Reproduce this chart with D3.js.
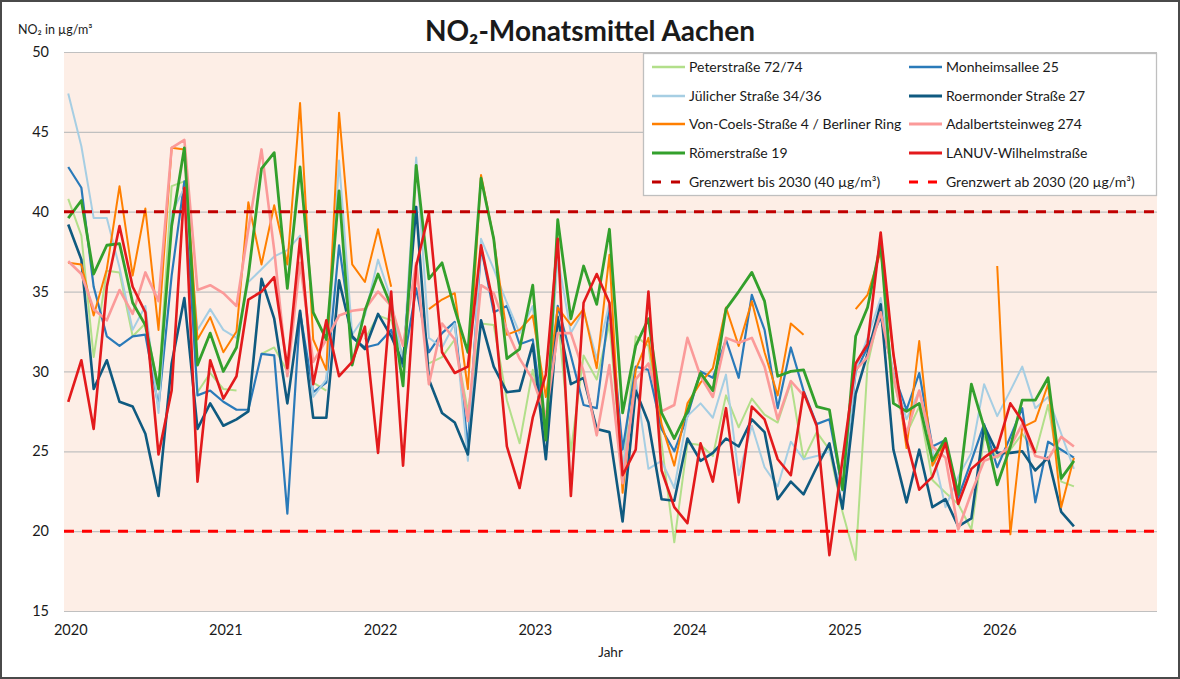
<!DOCTYPE html>
<html>
<head>
<meta charset="utf-8">
<script src="https://cdn.jsdelivr.net/npm/d3@7"></script>
<style>
body { margin: 0; background: #fff; }
text { font-family: Lato, "Noto Sans", sans-serif; fill: #1a1a1a; }
</style>
</head>
<body>
<svg id="chart" width="1180" height="679"></svg>
<script>
// monthly means, first value = Jan 2020, null = no measurement
var years = [2020, 2021, 2022, 2023, 2024, 2025, 2026];
var yTicks = [15, 20, 25, 30, 35, 40, 45, 50];

var peterstrasse = [40.8,38.5,30.9,36.3,36.2,32.2,33.0,29.0,41.6,41.9,28.7,29.9,
  28.9,28.8,null,31.1,31.5,30.0,null,29.3,28.8,null,null,32.0,
  33.5,33.2,31.0,null,30.5,30.9,32.0,27.5,33.0,32.9,28.2,25.5,
  30.1,26.4,33.5,25.0,31.0,29.5,33.0,23.5,32.2,31.6,25.5,19.3,
  25.5,25.4,24.7,28.5,26.5,28.3,27.3,26.8,29.3,24.5,26.2,25.1,
  21.2,18.2,30.4,34.1,29.5,26.1,27.8,23.2,22.4,21.7,20.1,25.9,
  24.6,25.1,26.1,24.9,27.9,23.1,22.8];
var monheimsallee = [42.8,41.5,35.3,32.2,31.6,32.2,32.3,27.8,36.0,41.9,28.5,28.8,
  28.1,27.6,27.6,31.1,31.0,21.1,33.7,28.7,29.3,37.9,32.1,31.5,
  31.7,32.6,30.3,35.2,31.2,32.4,33.1,25.3,37.8,33.7,34.1,31.7,
  32.0,25.9,34.1,31.0,27.9,27.7,34.1,25.1,30.3,30.1,26.4,25.0,
  27.2,30.0,29.6,32.0,29.6,34.8,32.6,27.7,31.5,28.8,26.7,27.0,
  22.6,30.0,31.5,33.4,29.9,27.6,29.9,25.3,25.7,22.1,24.4,26.7,
  24.0,25.9,27.7,21.8,25.6,25.1,24.6];
var juelicher = [47.4,44.1,39.6,39.6,36.5,32.6,34.1,27.4,39.9,41.5,32.6,33.9,
  32.6,32.1,35.6,36.4,37.2,37.6,38.5,28.4,29.5,43.2,32.3,33.5,
  37.0,34.5,30.5,43.4,32.1,31.5,33.0,24.4,38.3,36.4,34.3,32.4,
  34.1,26.6,37.2,32.4,33.8,30.8,34.3,23.9,29.4,23.9,24.4,22.7,
  27.2,28.0,27.1,29.8,23.5,26.6,24.0,22.8,25.6,24.5,24.7,25.0,
  22.5,30.1,32.1,34.6,29.9,27.0,28.8,25.1,21.5,23.4,24.9,29.2,
  27.2,28.8,30.3,27.7,28.4,26.1,23.9];
var roermonder = [39.2,37.0,28.9,30.7,28.1,27.8,26.1,22.2,30.5,34.6,26.4,28.0,
  26.6,27.0,27.5,35.8,33.3,28.0,33.8,27.1,27.1,35.7,32.2,31.4,
  33.6,32.2,30.5,40.3,29.5,27.4,26.8,24.8,33.2,30.3,28.7,28.8,
  31.7,24.5,33.4,29.2,29.6,26.4,26.2,20.6,28.8,26.8,22.0,21.9,
  25.8,24.4,24.9,25.8,25.3,27.0,26.2,22.0,23.1,22.3,24.0,25.5,
  21.4,28.6,31.1,34.2,25.1,21.8,25.1,21.5,22.0,20.3,20.8,26.6,
  24.9,24.9,25.0,23.8,24.6,21.2,20.3];
var vonCoels = [36.8,36.7,33.5,36.4,41.6,36.0,40.2,32.6,44.0,43.9,32.0,33.4,
  31.2,32.5,40.6,36.7,40.4,36.7,46.8,32.0,30.1,46.2,36.7,35.6,
  38.9,35.3,null,null,33.9,34.5,34.9,28.9,42.3,38.3,32.3,32.6,
  33.5,28.4,34.0,32.9,33.9,30.2,37.3,22.4,30.1,32.1,26.7,24.1,
  28.0,29.3,30.2,34.0,31.6,34.4,31.2,28.5,33.0,32.3,null,null,
  null,33.9,34.8,37.5,31.1,25.2,31.9,24.1,25.6,22.3,null,null,
  36.6,19.8,26.5,26.9,29.2,21.5,24.6];
var adalbertsteinweg = [36.9,36.1,33.9,33.2,35.1,33.6,36.2,34.4,44.0,44.5,35.1,35.4,
  34.9,34.1,38.9,43.9,37.6,29.7,36.8,30.6,32.0,33.5,33.8,33.9,
  35.0,34.1,31.6,36.8,29.2,33.0,32.0,26.9,35.4,34.9,32.6,30.8,
  29.5,27.2,32.4,32.4,30.0,26.0,30.4,23.0,29.5,30.5,27.5,27.9,
  32.1,29.7,28.4,32.1,31.8,32.1,30.3,27.0,29.4,28.5,null,null,
  null,30.1,30.9,33.7,29.7,26.1,28.8,25.3,24.6,20.1,22.4,24.4,
  24.7,25.3,26.7,24.7,24.5,25.9,25.3];
var roemerstrasse = [39.6,40.7,36.1,37.9,38.0,34.3,32.9,28.9,39.1,44.0,30.4,32.4,
  30.0,31.5,36.0,42.7,43.7,35.2,42.8,33.7,32.0,41.3,30.4,33.8,
  36.1,34.1,29.1,42.9,35.8,36.8,33.9,31.2,42.1,38.3,30.8,31.4,
  35.4,25.7,39.5,33.3,36.6,34.2,38.9,27.4,31.6,33.3,27.4,25.8,
  27.5,29.9,28.8,33.9,35.0,36.2,34.4,29.7,30.0,30.1,27.8,27.6,
  22.6,32.2,34.0,38.0,28.0,27.5,28.0,24.4,25.8,22.3,29.2,26.5,
  22.9,25.3,28.2,28.2,29.6,23.3,24.4];
var lanuv = [28.1,30.7,26.4,35.3,39.1,35.3,33.7,24.8,28.8,41.5,23.1,30.7,
  28.3,29.7,34.5,35.0,35.9,30.2,38.3,29.2,33.2,29.7,30.6,32.8,
  24.9,35.0,24.1,36.6,39.9,31.2,29.9,30.3,37.9,34.1,25.3,22.7,
  27.1,29.8,38.3,22.2,34.3,36.1,34.3,23.5,25.1,35.0,23.8,21.5,
  20.5,25.5,23.1,27.7,21.8,27.8,27.0,24.5,23.5,28.7,26.6,18.5,
  24.5,30.5,31.7,38.7,31.1,25.7,22.6,23.4,25.5,21.7,23.9,24.6,
  25.2,28.0,26.9,24.9];

var limits = [40, 20];
var limitNames = ["Grenzwert bis 2030 (40 µg/m³)", "Grenzwert ab 2030 (20 µg/m³)"];
var limitColors = ["#c00000", "#ff0000"];

// legend order (row by row), also drawing order
var seriesNames = ["Peterstraße 72/74", "Monheimsallee 25", "Jülicher Straße 34/36", "Roermonder Straße 27",
  "Von-Coels-Straße 4 / Berliner Ring", "Adalbertsteinweg 274", "Römerstraße 19", "LANUV-Wilhelmstraße"];
var seriesData = [peterstrasse, monheimsallee, juelicher, roermonder, vonCoels, adalbertsteinweg, roemerstrasse, lanuv];
var seriesColors = ["#b2df8a", "#2a7ab9", "#a6cee3", "#0f5a80", "#ff7f00", "#fb9a99", "#33a02c", "#e31a1c"];
var seriesWidths = [2, 2.2, 2, 2.6, 2, 2.6, 2.8, 2.6];

var svg = d3.select("#chart");
var plotL = 64, plotR = 1157, plotT = 52, plotB = 611;

svg.append("rect")
  .attr("x", 1).attr("y", 1).attr("width", 1178).attr("height", 677)
  .attr("fill", "#fff").attr("stroke", "#4a4a4a").attr("stroke-width", 2);

var x = d3.scaleTime()
  .domain([new Date(2019, 11, 22), new Date(2027, 0, 13)])
  .range([plotL, plotR]);
var y = d3.scaleLinear().domain([15, 50]).range([plotB, plotT]);

svg.append("rect")
  .attr("x", plotL).attr("y", plotT).attr("width", plotR - plotL).attr("height", plotB - plotT)
  .attr("fill", "#fdeee6");

// y grid + labels
var yAxis = svg.append("g")
  .attr("transform", "translate(" + plotL + ",0)")
  .call(d3.axisLeft(y).tickValues(yTicks).tickSize(-(plotR - plotL)).tickPadding(15));
yAxis.select(".domain").remove();
yAxis.selectAll("line").attr("stroke", "#c0c0c0").attr("stroke-width", 1.2);
yAxis.selectAll("text").style("font-family", "Lato, sans-serif").style("font-size", "14.5px").attr("fill", "#1a1a1a");

var xAxis = svg.append("g")
  .attr("transform", "translate(0," + plotB + ")")
  .call(d3.axisBottom(x)
    .tickValues(years.map(function(yr) { return new Date(yr, 0, 1); }))
    .tickFormat(d3.timeFormat("%Y"))
    .tickSize(0).tickPadding(14));
xAxis.select(".domain").remove();
xAxis.selectAll("text").attr("dx", 2).style("font-family", "Lato, sans-serif").style("font-size", "14.5px").attr("fill", "#1a1a1a");

var line = d3.line()
  .defined(function(d) { return d.v != null; })
  .x(function(d) { return x(d.date); })
  .y(function(d) { return y(d.v); });

var toPoints = function(values) {
  return values.map(function(v, i) {
    return {date: d3.timeMonth.offset(new Date(2020, 0, 1), i), v: v};
  });
};

svg.append("g")
  .selectAll("path")
  .data(seriesData)
  .enter()
  .append("path")
  .attr("d", function(d) { return line(toPoints(d)); })
  .attr("fill", "none")
  .attr("stroke", function(d, i) { return seriesColors[i]; })
  .attr("stroke-width", function(d, i) { return seriesWidths[i]; })
  .attr("stroke-linejoin", "round");

svg.append("g")
  .selectAll("line")
  .data(limits)
  .enter()
  .append("line")
  .attr("x1", plotL).attr("x2", plotR)
  .attr("y1", function(d) { return y(d); })
  .attr("y2", function(d) { return y(d); })
  .attr("stroke", function(d, i) { return limitColors[i]; })
  .attr("stroke-width", 3)
  .attr("stroke-dasharray", "10,8");

// titles
svg.append("text")
  .attr("x", 590).attr("y", 41)
  .attr("text-anchor", "middle")
  .style("font-size", "28px").style("font-weight", "bold")
  .text("NO₂-Monatsmittel Aachen");

svg.append("text")
  .attr("x", 18).attr("y", 34)
  .style("font-size", "12.5px")
  .text("NO₂ in µg/m³");

svg.append("text")
  .attr("x", (plotL + plotR) / 2).attr("y", 657)
  .attr("text-anchor", "middle")
  .style("font-size", "13.5px")
  .text("Jahr");

// legend
var legendItems = seriesNames.map(function(n, i) {
  return {name: n, color: seriesColors[i], width: seriesWidths[i], dash: null};
}).concat(limitNames.map(function(n, i) {
  return {name: n, color: limitColors[i], width: 3, dash: "9,10"};
}));

var legend = svg.append("g");
legend.append("rect")
  .attr("x", 643.5).attr("y", 53.5).attr("width", 513).attr("height", 142)
  .attr("fill", "#fff").attr("stroke", "#bfbfbf").attr("stroke-width", 1.3);

var rowY = [67, 96, 124, 153, 182];
var colX = [652, 909];

var item = legend.selectAll("g.item")
  .data(legendItems)
  .enter()
  .append("g")
  .attr("class", "item")
  .attr("transform", function(d, i) {
    return "translate(" + colX[i % 2] + "," + rowY[Math.floor(i / 2)] + ")";
  });

item.append("line")
  .attr("x1", 0).attr("x2", 33)
  .attr("stroke", function(d) { return d.color; })
  .attr("stroke-width", function(d) { return d.dash ? 3 : d.width + 0.4; })
  .attr("stroke-dasharray", function(d) { return d.dash; });

item.append("text")
  .attr("x", 37).attr("y", 5)
  .style("font-size", "14px")
  .text(function(d) { return d.name; });
</script>
</body>
</html>
